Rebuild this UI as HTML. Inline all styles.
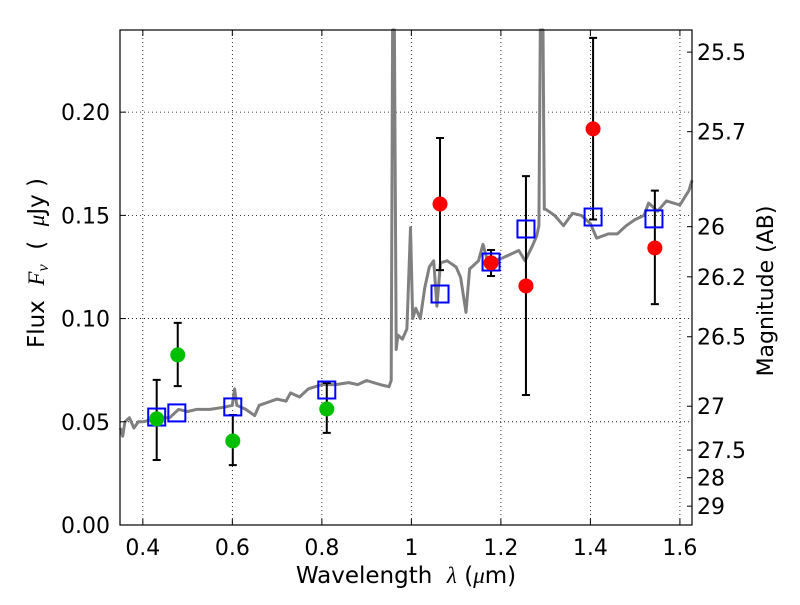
<!DOCTYPE html>
<html><head><meta charset="utf-8"><style>
body{margin:0;background:#fff}
svg text{font-family:"DejaVu Sans","Liberation Sans",sans-serif;fill:#000}
</style></head><body>
<svg id="chart" width="800" height="600" xmlns="http://www.w3.org/2000/svg">
<rect x="0" y="0" width="800" height="600" fill="#fff"/>
<g id="grid"></g>
<g id="spec"></g>
<g id="pts"></g>
<rect x="120" y="30" width="572" height="495" fill="none" stroke="#000" stroke-width="1.2"/>
<g id="axes"></g>
<text x="406" y="583" font-size="23" text-anchor="middle" xml:space="preserve">Wavelength  <tspan font-style="italic" font-family="Liberation Serif">λ</tspan> (<tspan font-style="italic" font-family="Liberation Serif">μ</tspan>m)</text>
<text transform="translate(44,263) rotate(-90)" font-size="23" text-anchor="middle" xml:space="preserve">Flux  <tspan font-style="italic" font-family="Liberation Serif">F<tspan font-size="16" dy="4">ν</tspan></tspan><tspan dy="-4">  (  </tspan><tspan font-style="italic" font-family="Liberation Serif">μ</tspan>Jy )</text>
<text transform="translate(773,291) rotate(-90)" font-size="22" text-anchor="middle">Magnitude (AB)</text>
</svg>
<script>
const xTicks=[0.4,0.6,0.8,1.0,1.2,1.4,1.6];
const xTickLabels=["0.4","0.6","0.8","1","1.2","1.4","1.6"];
const yTicks=[0,0.05,0.10,0.15,0.20];
const yTickLabels=["0.00","0.05","0.10","0.15","0.20"];
const magTicks=[25.5,25.7,26,26.2,26.5,27,27.5,28,29];
const specWave=[0.35,0.355,0.36,0.37,0.38,0.39,0.40,0.42,0.44,0.46,0.48,0.50,0.52,0.55,0.58,0.60,0.605,0.61,0.63,0.65,0.66,0.70,0.72,0.73,0.75,0.77,0.80,0.83,0.86,0.88,0.90,0.93,0.95,0.955,0.958,0.962,0.966,0.97,0.98,0.99,0.998,1.003,1.01,1.02,1.03,1.04,1.05,1.057,1.065,1.08,1.1,1.11,1.122,1.13,1.15,1.16,1.17,1.2,1.22,1.24,1.254,1.27,1.28,1.285,1.288,1.294,1.297,1.30,1.32,1.34,1.36,1.38,1.40,1.414,1.44,1.46,1.48,1.50,1.52,1.53,1.55,1.57,1.60,1.62,1.627];
const specFlux=[0.047,0.043,0.050,0.052,0.047,0.050,0.050,0.051,0.052,0.052,0.056,0.055,0.056,0.056,0.057,0.058,0.066,0.058,0.056,0.053,0.058,0.061,0.060,0.064,0.062,0.066,0.068,0.068,0.069,0.068,0.070,0.068,0.067,0.070,0.24,0.24,0.085,0.092,0.090,0.095,0.144,0.100,0.105,0.100,0.115,0.125,0.128,0.106,0.127,0.128,0.125,0.120,0.103,0.124,0.128,0.136,0.128,0.129,0.131,0.133,0.128,0.135,0.140,0.145,0.24,0.24,0.153,0.153,0.150,0.145,0.151,0.150,0.146,0.139,0.141,0.141,0.145,0.148,0.150,0.156,0.152,0.157,0.155,0.162,0.167];
const obsGreenX=[0.431,0.478,0.601,0.811];
const obsGreenY=[0.0514,0.0824,0.0407,0.0562];
const obsGreenLo=[0.0315,0.0673,0.0290,0.0446];
const obsGreenHi=[0.0703,0.0979,0.0533,0.0688];
const obsRedX=[1.064,1.178,1.256,1.406,1.544];
const obsRedY=[0.1555,0.127,0.1158,0.1919,0.1342];
const obsRedLo=[0.1235,0.1206,0.063,0.148,0.107];
const obsRedHi=[0.1875,0.1332,0.169,0.236,0.162];
const modelX=[0.431,0.476,0.601,0.811,1.064,1.178,1.256,1.406,1.542];
const modelY=[0.0523,0.0543,0.0572,0.0654,0.1119,0.1274,0.1434,0.1492,0.1483];

const X0=120,X1=692,Y0=30,Y1=525,XMIN=0.349,XMAX=1.627,YMIN=0,YMAX=0.2398;
const sx=v=>X0+(v-XMIN)/(XMAX-XMIN)*(X1-X0);
const sy=v=>Y1-(v-YMIN)/(YMAX-YMIN)*(Y1-Y0);
const NS="http://www.w3.org/2000/svg";
function mk(tag,attrs,parent){const e=document.createElementNS(NS,tag);for(const k in attrs)e.setAttribute(k,attrs[k]);parent.appendChild(e);return e;}
const grid=document.getElementById('grid'),axes=document.getElementById('axes'),spec=document.getElementById('spec'),pts=document.getElementById('pts');
xTicks.forEach((t,i)=>{const x=sx(t);
 let g=mk('line',{x1:x,x2:x,y1:Y0,y2:Y1,stroke:'#000','stroke-width':0.8,'stroke-dasharray':'1,3'},grid);
 
 
 let a=mk('line',{x1:x,x2:x,y1:Y1,y2:Y1-6,stroke:'#000'},axes);
 
 
 let b=mk('line',{x1:x,x2:x,y1:Y0,y2:Y0+6,stroke:'#000'},axes);
 
 
 let tx=mk('text',{x:x,y:Y1+30,'font-size':22,'text-anchor':'middle'},axes);tx.textContent=xTickLabels[i];
 
 
});
yTicks.forEach((t,i)=>{const y=sy(t);
 let g=mk('line',{x1:X0,x2:X1,y1:y,y2:y,stroke:'#000','stroke-width':0.8,'stroke-dasharray':'1,3'},grid);
 
 
 let a=mk('line',{x1:X0,x2:X0+6,y1:y,y2:y,stroke:'#000'},axes);
 
 
 let tx=mk('text',{x:X0-10,y:y+8,'font-size':22,'text-anchor':'end'},axes);tx.textContent=yTickLabels[i];
 
 
});
magTicks.forEach(m=>{const f=Math.pow(10,(23.9-m)/2.5);const y=sy(f);
 let a=mk('line',{x1:X1,x2:X1-5,y1:y,y2:y,stroke:'#000'},axes);
 
 
 let tx=mk('text',{x:X1+5,y:y+8,'font-size':22},axes);tx.textContent=String(m);
 
 
});
const d=specWave.map((w,i)=>(i?'L':'M')+sx(w).toFixed(1)+','+Math.max(Y0,sy(specFlux[i])).toFixed(1)).join(' ');
let sp=mk('path',{d:d,fill:'none',stroke:'#808080','stroke-width':3,'stroke-linejoin':'round'},spec);


function errbar(x,lo,hi){const X=sx(x),a=sy(lo),b=sy(hi);
 let e=mk('path',{d:`M${X},${a}V${b}M${X-4},${a}H${X+4}M${X-4},${b}H${X+4}`,stroke:'#000','stroke-width':2,fill:'none'},pts);
 
 
}
obsGreenX.forEach((x,i)=>{errbar(x,obsGreenLo[i],obsGreenHi[i]);});
obsRedX.forEach((x,i)=>{errbar(x,obsRedLo[i],obsRedHi[i]);});
modelX.forEach((x,i)=>{
 let r=mk('rect',{x:sx(x)-8.5,y:sy(modelY[i])-8.5,width:17,height:17,fill:'none',stroke:'#0000ff','stroke-width':2},pts);
 
 
});
obsGreenX.forEach((x,i)=>{
 let c=mk('circle',{cx:sx(x),cy:sy(obsGreenY[i]),r:7.5,fill:'#00bf00'},pts);
 
 
});
obsRedX.forEach((x,i)=>{
 let c=mk('circle',{cx:sx(x),cy:sy(obsRedY[i]),r:7.5,fill:'#ff0000'},pts);
 
 
});
</script>
</body></html>
